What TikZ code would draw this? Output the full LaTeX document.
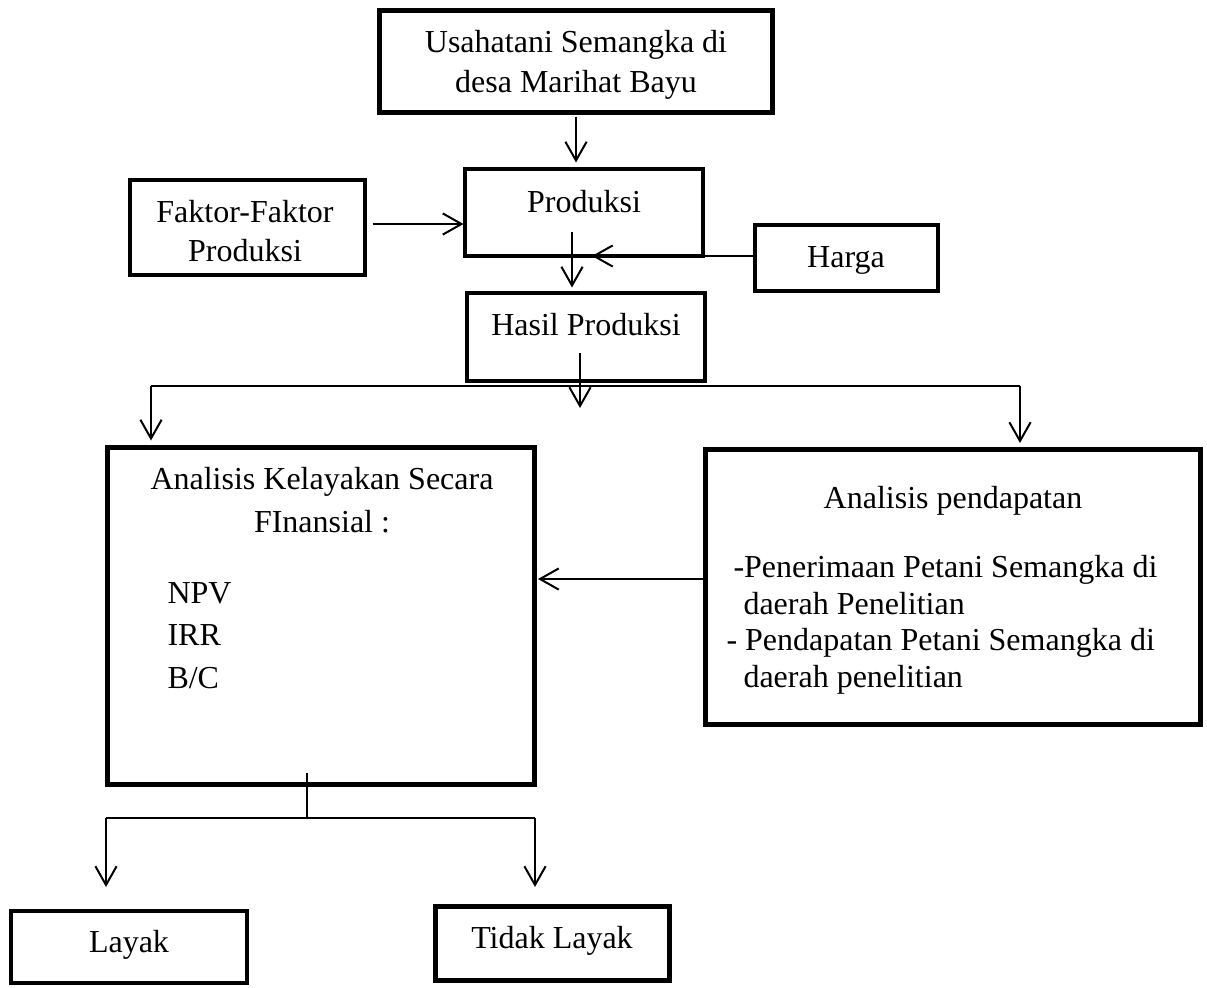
\documentclass[tikz,border=0pt]{standalone}
\usepackage{fontspec}
\setmainfont{Liberation Serif}
\usetikzlibrary{arrows.meta}
\newdimen\pxu \pxu=0.4pt
\begin{document}
\begin{tikzpicture}[x=0.4pt,y=-0.4pt,
  bxthick/.style={draw, line width=2pt, inner sep=0pt, outer sep=0pt, rectangle},
  bxmed/.style={draw, line width=1.6pt, inner sep=0pt, outer sep=0pt, rectangle},
  lbl/.style={inner sep=0pt, anchor=base, font=\fontsize{12.8pt}{15pt}\selectfont},
  lbll/.style={inner sep=0pt, anchor=base west, font=\fontsize{12.8pt}{15pt}\selectfont},
  conn/.style={line width=0.8pt},
  arr/.style={line width=0.8pt, -{Straight Barb[length=7.5pt,width=8.5pt,line width=0.8pt]}}]
\useasboundingbox (0,0) rectangle (1207,987);

% boxes
\node[bxthick, minimum width=393\pxu, minimum height=102\pxu] (b1) at (576,61.5) {};
\node[bxmed, minimum width=238\pxu, minimum height=87\pxu] (b2) at (584,212.5) {};
\node[bxmed, minimum width=235\pxu, minimum height=95\pxu] (b3) at (247.5,227.5) {};
\node[bxmed, minimum width=183\pxu, minimum height=66\pxu] (b4) at (846.5,258) {};
\node[bxmed, minimum width=238\pxu, minimum height=88\pxu] (b5) at (586,337) {};
\node[bxthick, minimum width=427\pxu, minimum height=337\pxu] (b6) at (321,616) {};
\node[bxthick, minimum width=495\pxu, minimum height=275\pxu] (b7) at (953,587) {};
\node[bxmed, minimum width=236\pxu, minimum height=72\pxu] (b8) at (129,947) {};
\node[bxthick, minimum width=234\pxu, minimum height=74\pxu] (b9) at (552.5,943.5) {};

% texts
\node[lbl] (t1a) at (576,52) {Usahatani Semangka di};
\node[lbl] (t1b) at (576,92) {desa Marihat Bayu};
\node[lbl] (t2) at (584,212) {Produksi};
\node[lbl] (t3a) at (245,222) {Faktor-Faktor};
\node[lbl] (t3b) at (245,261) {Produksi};
\node[lbl] (t4) at (846,267) {Harga};
\node[lbl] (t5) at (586,335) {Hasil Produksi};
\node[lbl] (t6a) at (322,489) {Analisis Kelayakan Secara};
\node[lbl] (t6b) at (322,532) {FInansial :};
\node[lbll] (t6c) at (167,603) {NPV};
\node[lbll] (t6d) at (167,645) {IRR};
\node[lbll] (t6e) at (167,688) {B/C};
\node[lbl] (t7a) at (953,508) {Analisis pendapatan};
\node[lbll] (t7b) at (733,577) {-Penerimaan Petani Semangka di};
\node[lbll] (t7c) at (743,614) {daerah Penelitian};
\node[lbll] (t7d) at (726,650) {- Pendapatan Petani Semangka di};
\node[lbll] (t7e) at (743,687) {daerah penelitian};
\node[lbl] (t8) at (129,952) {Layak};
\node[lbl] (t9) at (552,948) {Tidak Layak};

% free-end coordinates
\coordinate (p3) at (572,232);
\coordinate (hargatip) at (592,256);
\coordinate (p4) at (580,353);
\coordinate (p4e) at (580,408);
\coordinate (hl) at (151,386);
\coordinate (hr) at (1020,386);
\coordinate (bv) at (307,773);
\coordinate (bl) at (106,818);
\coordinate (br) at (535,818);

% connectors
\draw[arr] ([yshift=-1.6pt]b1.south) -- ([yshift=2.6pt]b1.south |- b2.north);
\draw[arr] ([xshift=3pt,yshift=1.4pt]b3.east) -- ([xshift=-0.6pt,yshift=1.4pt]b3.east -| b2.west);
\draw[arr] (b4.west |- hargatip) -- (hargatip);
\draw[arr] (p3) -- ([yshift=2.2pt]p3 |- b5.north);
\draw[arr] (p4) -- (p4e);
\draw[conn] (hl) -- (hr);
\draw[arr] (hl) -- ([yshift=2.8pt]hl |- b6.north);
\draw[arr] (hr) -- ([yshift=2.6pt]hr |- b7.north);
\draw[arr] ([yshift=3.2pt]b7.west) -- ([xshift=1.4pt,yshift=3.2pt]b7.west -| b6.east);
\draw[conn] (bv) -- (bv |- bl);
\draw[conn] (bl) -- (br);
\draw[arr] (bl) -- ([yshift=9.6pt]bl |- b8.north);
\draw[arr] (br) -- ([yshift=7.8pt]br |- b9.north);
\end{tikzpicture}
\end{document}
